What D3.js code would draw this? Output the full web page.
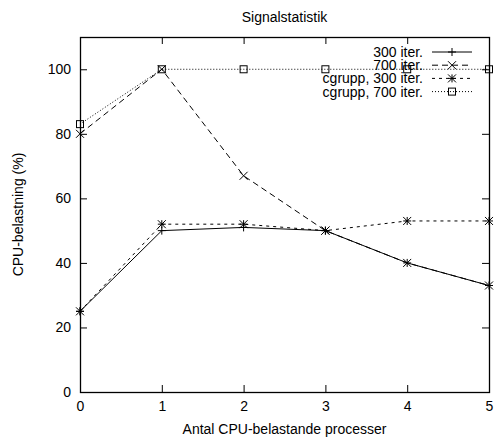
<!DOCTYPE html>
<html>
<head>
<meta charset="utf-8">
<script src="https://cdn.jsdelivr.net/npm/d3@7"></script>
<style>
  body { margin: 0; background: #fff; }
  text { font-family: "Liberation Sans", Arial, sans-serif; fill: #000; }
</style>
</head>
<body>
<svg id="chart" width="497" height="441"></svg>
<script>
const processes = [0, 1, 2, 3, 4, 5];
const iter300 = [25, 50, 51, 50, 40, 33];
const iter700 = [80, 100, 67, 50, 40, 33];
const cgrupp300 = [25, 52, 52, 50, 53, 53];
const cgrupp700 = [83, 100, 100, 100, 100, 100];
const yTicks = [0, 20, 40, 60, 80, 100];
const seriesNames = ["300 iter.", "700 iter.", "cgrupp, 300 iter.", "cgrupp, 700 iter."];

const width = 497, height = 441;
const margin = { top: 37, right: 8, bottom: 49, left: 80 };
const plotW = width - margin.left - margin.right;
const plotH = height - margin.top - margin.bottom;
const fontSize = 14;

const svg = d3.select("#chart");

const x = d3.scaleLinear().domain([0, 5]).range([margin.left, margin.left + plotW]);
const y = d3.scaleLinear().domain([0, 110]).range([margin.top + plotH, margin.top]);

const tickLen = 7;

// axes (ticks on all four sides, pointing inward)
svg.append("g")
  .attr("transform", `translate(0,${y(0)})`)
  .call(d3.axisBottom(x).tickValues(processes).tickFormat(d3.format("d")).tickSize(-tickLen).tickPadding(9))
  .call(g => g.select(".domain").remove())
  .call(g => g.selectAll("text").attr("font-size", fontSize).attr("font-family", "Liberation Sans, Arial, sans-serif"));

svg.append("g")
  .attr("transform", `translate(0,${margin.top})`)
  .call(d3.axisTop(x).tickValues(processes).tickSize(-tickLen).tickFormat(""))
  .call(g => g.select(".domain").remove());

svg.append("g")
  .attr("transform", `translate(${margin.left},0)`)
  .call(d3.axisLeft(y).tickValues(yTicks).tickSize(-tickLen).tickPadding(9))
  .call(g => g.select(".domain").remove())
  .call(g => g.selectAll("text").attr("font-size", fontSize).attr("font-family", "Liberation Sans, Arial, sans-serif"));

svg.append("g")
  .attr("transform", `translate(${margin.left + plotW},0)`)
  .call(d3.axisRight(y).tickValues(yTicks).tickSize(-tickLen).tickFormat(""))
  .call(g => g.select(".domain").remove());

svg.selectAll(".tick line").attr("stroke", "#000");

svg.append("rect")
  .attr("x", margin.left + 0.5)
  .attr("y", margin.top + 0.5)
  .attr("width", plotW)
  .attr("height", plotH)
  .attr("fill", "none")
  .attr("stroke", "#000")
  .attr("stroke-width", 1.3);

// titles
svg.append("text")
  .attr("x", x(2.5)).attr("y", 22)
  .attr("text-anchor", "middle").attr("font-size", fontSize)
  .text("Signalstatistik");

svg.append("text")
  .attr("x", x(2.5)).attr("y", 434)
  .attr("text-anchor", "middle").attr("font-size", fontSize)
  .text("Antal CPU-belastande processer");

svg.append("text")
  .attr("transform", `translate(23,${y(55)}) rotate(-90)`)
  .attr("text-anchor", "middle").attr("font-size", fontSize)
  .text("CPU-belastning (%)");

// markers
function drawMarker(g, kind, cx, cy) {
  const s = 4;
  if (kind === "plus" || kind === "star") {
    g.append("path").attr("d", `M${cx - s},${cy}H${cx + s}M${cx},${cy - s}V${cy + s}`)
      .attr("stroke", "#000").attr("fill", "none");
  }
  if (kind === "cross" || kind === "star") {
    g.append("path").attr("d", `M${cx - s},${cy - s}L${cx + s},${cy + s}M${cx - s},${cy + s}L${cx + s},${cy - s}`)
      .attr("stroke", "#000").attr("fill", "none");
  }
  if (kind === "square") {
    g.append("rect").attr("x", cx - 3.5).attr("y", cy - 3.5).attr("width", 7).attr("height", 7)
      .attr("stroke", "#000").attr("fill", "none");
  }
}

const series = [
  { name: seriesNames[0], values: iter300, dash: null, marker: "plus" },
  { name: seriesNames[1], values: iter700, dash: "6,4", marker: "cross" },
  { name: seriesNames[2], values: cgrupp300, dash: "3,4", marker: "star" },
  { name: seriesNames[3], values: cgrupp700, dash: "1,2", marker: "square" }
];

const line = d3.line().x((d, i) => x(processes[i])).y(d => y(d));

series.forEach(s => {
  const g = svg.append("g");
  g.append("path")
    .datum(s.values)
    .attr("d", line)
    .attr("fill", "none")
    .attr("stroke", "#000")
    .attr("stroke-width", 1)
    .attr("stroke-dasharray", s.dash);
  s.values.forEach((v, i) => drawMarker(g, s.marker, x(processes[i]), y(v)));
});

// legend
const legend = svg.append("g");
series.forEach((s, i) => {
  const ly = 52 + i * 13.2;
  legend.append("text")
    .attr("x", 423).attr("y", ly + 5)
    .attr("text-anchor", "end").attr("font-size", fontSize)
    .text(s.name);
  legend.append("line")
    .attr("x1", 432).attr("x2", 472).attr("y1", ly).attr("y2", ly)
    .attr("stroke", "#000").attr("stroke-dasharray", s.dash);
  drawMarker(legend, s.marker, 452, ly);
});
</script>
</body>
</html>
